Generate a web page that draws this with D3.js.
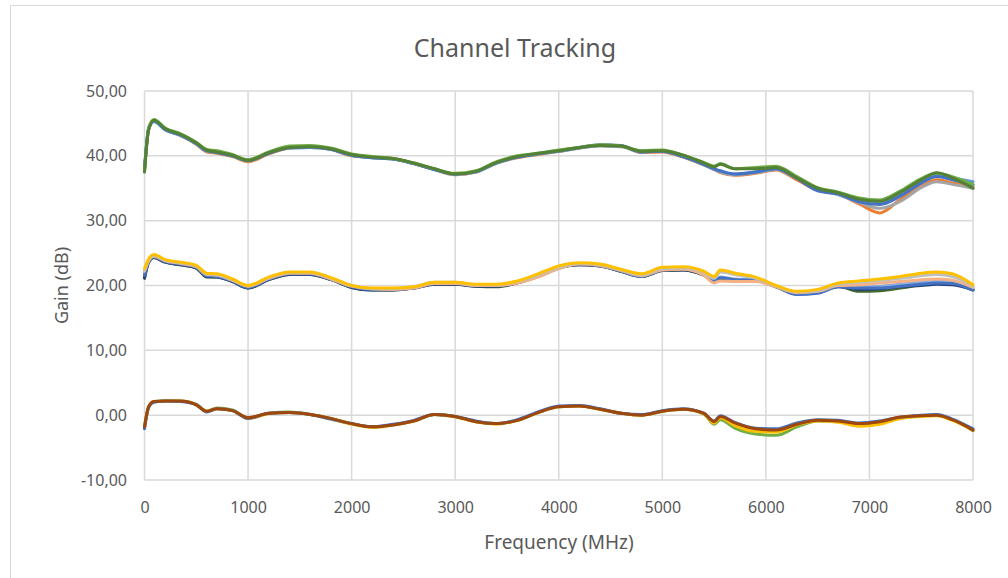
<!DOCTYPE html>
<html>
<head>
<meta charset="utf-8">
<script src="https://d3js.org/d3.v7.min.js"></script>
<style>
  body { margin: 0; background: #fff; }
  text { font-family: "Noto Sans", "Open Sans", sans-serif; fill: #595959; }
</style>
</head>
<body>
<div id="chart"></div>
<script>
// frequency points (MHz)
var freq = [0, 40, 90, 200, 350, 500, 600, 700, 850, 1000, 1200, 1400, 1600, 1800, 2000, 2200, 2400, 2600, 2800, 3000,
    3200, 3400, 3600, 3800, 4000, 4200, 4400, 4600, 4800, 5000, 5200, 5400, 5500, 5560, 5700, 5900, 6100, 6300, 6500,
    6700, 6900, 7100, 7300, 7500, 7650, 7800, 8000];

// high gain band (~40 dB)
var highOrange = [37.7, 44.1, 45.4, 44.1, 43.1, 41.8, 40.6, 40.4, 39.9, 39.1, 40.3, 41.2, 41.4, 41.0, 40.0, 39.8, 39.6, 38.8, 37.9, 37.1, 37.5, 38.9, 39.7, 40.2, 40.7, 41.2, 41.6, 41.5, 40.5, 40.6, 39.8, 38.6, 37.9, 37.4, 37.0, 37.3, 37.8, 36.3, 34.7, 34.1, 32.6, 31.2, 33.3, 35.3, 36.3, 35.8, 35.2];
var highGray = [37.6, 44.0, 45.3, 44.0, 43.1, 41.8, 40.7, 40.5, 40.0, 39.2, 40.4, 41.2, 41.3, 41.0, 40.1, 39.7, 39.5, 38.8, 37.9, 37.1, 37.5, 38.9, 39.8, 40.3, 40.7, 41.2, 41.5, 41.4, 40.6, 40.7, 39.9, 38.6, 37.9, 37.5, 37.1, 37.4, 37.9, 36.5, 34.8, 34.0, 32.8, 31.9, 33.0, 35.1, 36.0, 35.6, 35.0];
var highLightBlue = [37.9, 44.1, 45.3, 44.0, 43.2, 41.9, 40.8, 40.6, 40.0, 39.3, 40.5, 41.2, 41.3, 41.0, 40.1, 39.7, 39.5, 38.8, 37.9, 37.2, 37.5, 38.9, 39.8, 40.3, 40.7, 41.2, 41.6, 41.5, 40.6, 40.7, 39.9, 38.7, 38.0, 37.6, 37.2, 37.5, 38.1, 36.6, 34.8, 34.2, 33.0, 32.7, 34.0, 36.0, 36.9, 36.6, 36.0];
var highBlue = [38.0, 44.3, 45.4, 44.1, 43.2, 41.9, 40.8, 40.5, 40.0, 39.3, 40.4, 41.3, 41.4, 41.0, 40.1, 39.7, 39.5, 38.8, 37.9, 37.2, 37.6, 39.0, 39.8, 40.3, 40.8, 41.3, 41.7, 41.6, 40.6, 40.7, 39.9, 38.7, 38.0, 37.7, 37.2, 37.5, 38.0, 36.5, 34.6, 34.1, 32.9, 32.5, 33.8, 35.8, 36.8, 36.3, 35.5];
var highGreen = [37.8, 44.2, 45.6, 44.3, 43.4, 42.1, 41.0, 40.8, 40.2, 39.4, 40.6, 41.5, 41.6, 41.2, 40.3, 39.9, 39.6, 38.9, 38.0, 37.3, 37.7, 39.1, 40.0, 40.4, 40.9, 41.3, 41.7, 41.5, 40.8, 40.9, 40.1, 39.0, 38.4, 38.8, 38.0, 38.2, 38.4, 36.8, 35.1, 34.4, 33.5, 33.2, 34.6, 36.5, 37.3, 36.8, 35.6];
var highDarkGreen = [37.5, 44.0, 45.5, 44.2, 43.3, 42.0, 40.9, 40.6, 40.1, 39.3, 40.5, 41.3, 41.4, 41.1, 40.2, 39.8, 39.6, 38.9, 38.0, 37.2, 37.6, 39.0, 39.9, 40.4, 40.8, 41.3, 41.6, 41.5, 40.7, 40.8, 40.1, 38.9, 38.3, 38.7, 38.0, 38.0, 38.2, 36.6, 35.0, 34.3, 33.3, 33.0, 34.4, 36.3, 37.4, 36.6, 35.0];

// mid gain band (~20 dB)
var midDarkGreen = [21.1, 23.6, 24.3, 23.6, 23.2, 22.7, 21.3, 21.3, 20.6, 19.6, 20.9, 21.7, 21.7, 20.9, 19.7, 19.3, 19.3, 19.6, 20.2, 20.2, 19.9, 19.8, 20.4, 21.4, 22.7, 23.2, 23.0, 22.2, 21.4, 22.3, 22.4, 21.6, 20.8, 21.1, 20.9, 20.8, 19.8, 18.8, 19.0, 19.9, 19.1, 19.2, 19.6, 20.1, 20.4, 20.3, 19.4];
var midDarkBlue = [21.2, 23.6, 24.3, 23.6, 23.2, 22.7, 21.4, 21.3, 20.6, 19.6, 20.9, 21.7, 21.7, 20.9, 19.7, 19.3, 19.3, 19.6, 20.2, 20.2, 19.9, 19.9, 20.4, 21.4, 22.7, 23.2, 23.0, 22.2, 21.4, 22.3, 22.4, 21.6, 20.8, 21.1, 20.9, 20.8, 19.8, 18.7, 18.9, 19.8, 19.4, 19.5, 19.8, 20.0, 20.2, 20.1, 19.3];
var midLightBlue = [21.8, 23.8, 24.5, 23.8, 23.4, 22.9, 21.6, 21.5, 20.8, 19.8, 21.1, 21.9, 21.9, 21.0, 19.9, 19.5, 19.5, 19.7, 20.4, 20.4, 20.0, 20.0, 20.5, 21.5, 22.8, 23.4, 23.1, 22.3, 21.5, 22.5, 22.6, 21.8, 20.9, 21.3, 21.0, 20.9, 19.9, 18.8, 19.0, 20.0, 19.8, 19.9, 20.2, 20.5, 20.7, 20.5, 19.5];
var midBlue = [21.6, 23.7, 24.4, 23.7, 23.3, 22.8, 21.5, 21.4, 20.7, 19.7, 21.0, 21.8, 21.8, 21.0, 19.8, 19.4, 19.4, 19.6, 20.3, 20.3, 20.0, 20.0, 20.5, 21.4, 22.7, 23.3, 23.1, 22.2, 21.4, 22.4, 22.5, 21.7, 20.8, 21.2, 20.9, 20.8, 19.8, 18.6, 18.8, 19.8, 19.6, 19.6, 19.9, 20.2, 20.4, 20.3, 19.3];
var midOrange = [22.2, 23.8, 24.5, 23.8, 23.4, 22.9, 21.7, 21.6, 20.8, 19.9, 21.1, 21.9, 21.9, 21.0, 19.9, 19.5, 19.4, 19.6, 20.3, 20.3, 20.0, 20.0, 20.4, 21.3, 22.6, 23.3, 23.1, 22.3, 21.5, 22.4, 22.5, 21.6, 20.4, 20.7, 20.6, 20.6, 19.8, 18.9, 19.1, 20.0, 20.1, 20.4, 20.6, 20.9, 21.0, 20.8, 19.7];
var midGray = [22.3, 23.9, 24.6, 23.9, 23.5, 23.0, 21.8, 21.6, 20.9, 19.9, 21.2, 22.0, 22.0, 21.1, 20.0, 19.5, 19.5, 19.8, 20.5, 20.5, 20.1, 20.1, 20.6, 21.6, 22.8, 23.4, 23.2, 22.4, 21.6, 22.6, 22.7, 22.0, 21.1, 22.1, 21.7, 21.1, 19.9, 19.0, 19.2, 20.2, 20.5, 20.8, 21.1, 21.5, 21.7, 21.4, 19.9];
var midYellow = [22.6, 24.1, 24.8, 24.0, 23.6, 23.1, 21.9, 21.8, 21.0, 20.0, 21.3, 22.1, 22.1, 21.2, 20.0, 19.6, 19.6, 19.8, 20.5, 20.5, 20.2, 20.2, 20.7, 21.8, 23.0, 23.5, 23.3, 22.5, 21.8, 22.8, 22.9, 22.2, 21.4, 22.4, 21.9, 21.3, 20.0, 19.1, 19.4, 20.4, 20.7, 21.0, 21.4, 21.9, 22.1, 21.8, 20.1];

// low gain band (~0 dB)
var lowGreen = [-1.9, 1.3, 2.1, 2.2, 2.2, 1.7, 0.6, 1.1, 0.8, -0.4, 0.3, 0.5, 0.1, -0.5, -1.3, -1.8, -1.5, -0.9, 0.1, -0.2, -1.0, -1.3, -0.8, 0.4, 1.3, 1.4, 0.9, 0.3, 0.0, 0.6, 0.9, 0.2, -1.4, -0.7, -2.0, -2.9, -3.1, -1.8, -0.9, -1.0, -1.4, -1.1, -0.4, -0.1, 0.0, -0.7, -2.4];
var lowYellow = [-1.9, 1.2, 2.1, 2.2, 2.2, 1.6, 0.6, 1.0, 0.7, -0.5, 0.2, 0.4, 0.1, -0.6, -1.4, -1.9, -1.5, -0.9, 0.1, -0.3, -1.0, -1.4, -0.8, 0.4, 1.3, 1.4, 0.9, 0.3, 0.0, 0.6, 0.9, 0.2, -1.2, -0.4, -1.6, -2.5, -2.6, -1.5, -0.9, -1.1, -1.7, -1.4, -0.5, -0.2, -0.1, -0.8, -2.3];
var lowBlue = [-2.1, 1.2, 2.0, 2.2, 2.1, 1.6, 0.5, 1.0, 0.7, -0.5, 0.3, 0.4, 0.1, -0.6, -1.3, -1.8, -1.4, -0.8, 0.1, -0.2, -0.9, -1.3, -0.7, 0.5, 1.4, 1.5, 1.0, 0.3, 0.1, 0.7, 1.0, 0.3, -0.9, -0.1, -1.1, -2.0, -2.1, -1.2, -0.7, -0.8, -1.2, -0.9, -0.3, 0.0, 0.1, -0.6, -2.1];
var lowBrown = [-1.8, 1.3, 2.1, 2.2, 2.2, 1.6, 0.6, 1.0, 0.7, -0.4, 0.3, 0.4, 0.1, -0.5, -1.3, -1.8, -1.5, -0.9, 0.1, -0.2, -1.0, -1.3, -0.8, 0.4, 1.3, 1.4, 0.9, 0.3, 0.0, 0.6, 0.9, 0.3, -1.0, -0.2, -1.2, -2.1, -2.3, -1.4, -0.8, -0.9, -1.3, -1.0, -0.3, -0.1, 0.0, -0.7, -2.3];

// axis ticks
var xTicks = [0, 1000, 2000, 3000, 4000, 5000, 6000, 7000, 8000];
var yTicks = [-10, 0, 10, 20, 30, 40, 50];

// series in drawing order (last drawn on top)
var series = [
    { values: highOrange, color: "#ED7D31" },
    { values: highGray, color: "#A5A5A5" },
    { values: highLightBlue, color: "#5B9BD5" },
    { values: highBlue, color: "#4472C4" },
    { values: highGreen, color: "#70AD47" },
    { values: highDarkGreen, color: "#548235" },
    { values: midDarkGreen, color: "#43682B" },
    { values: midDarkBlue, color: "#264478" },
    { values: midLightBlue, color: "#8FAADC" },
    { values: midBlue, color: "#4472C4" },
    { values: midOrange, color: "#F4B183" },
    { values: midGray, color: "#BFBFBF" },
    { values: midYellow, color: "#FFC000" },
    { values: lowGreen, color: "#70AD47" },
    { values: lowYellow, color: "#FFC000" },
    { values: lowBlue, color: "#4472C4" },
    { values: lowBrown, color: "#9E480E" }
];

var svgWidth = 1008;
var svgHeight = 578;

var svg = d3.select("#chart")
    .append("svg")
    .attr("width", svgWidth)
    .attr("height", svgHeight);

// chart border
svg.append("rect")
    .attr("x", 10.5)
    .attr("y", 5.5)
    .attr("width", 1010)
    .attr("height", 600)
    .attr("fill", "#fff")
    .attr("stroke", "#d9d9d9")
    .attr("stroke-width", 1);

// scales
var x = d3.scaleLinear().domain([0, 8000]).range([144.5, 973]);
var y = d3.scaleLinear().domain([-10, 50]).range([480, 91]);

// comma decimals, plain hyphen for minus
var comma = d3.formatLocale({ decimal: ",", thousands: ".", grouping: [3], currency: ["", ""], minus: "-" });
var fmtY = comma.format(".2f");

// gridlines
svg.append("g")
    .selectAll("line")
    .data(yTicks)
    .enter()
    .append("line")
    .attr("x1", x(0))
    .attr("x2", x(8000))
    .attr("y1", d => y(d))
    .attr("y2", d => y(d))
    .attr("stroke", "#d9d9d9")
    .attr("stroke-width", 1.5);

svg.append("g")
    .selectAll("line")
    .data(xTicks)
    .enter()
    .append("line")
    .attr("x1", d => x(d))
    .attr("x2", d => x(d))
    .attr("y1", y(50))
    .attr("y2", y(-10))
    .attr("stroke", "#d9d9d9")
    .attr("stroke-width", 1.5);

// axis labels
var bottomAxis = d3.axisBottom(x).tickValues(xTicks).tickSize(0).tickPadding(0).tickFormat(d3.format("d"));
var gx = svg.append("g")
    .attr("transform", `translate(0, ${y(-10)})`)
    .call(bottomAxis);
gx.select(".domain").remove();
gx.selectAll("text")
    .attr("y", 33)
    .attr("dy", 0)
    .style("font-size", "16px")
    .style("font-family", "Noto Sans")
    .attr("fill", "#595959");

var leftAxis = d3.axisLeft(y).tickValues(yTicks).tickSize(0).tickPadding(0).tickFormat(fmtY);
var gy = svg.append("g")
    .attr("transform", `translate(127, 0)`)
    .call(leftAxis);
gy.select(".domain").remove();
gy.selectAll("text")
    .style("font-size", "16px")
    .style("font-family", "Noto Sans")
    .attr("fill", "#595959");

// lines
var line = d3.line()
    .x((d, i) => x(freq[i]))
    .y(d => y(d))
    .curve(d3.curveMonotoneX);

svg.append("g")
    .selectAll("path")
    .data(series)
    .enter()
    .append("path")
    .attr("d", d => line(d.values))
    .attr("fill", "none")
    .attr("stroke", d => d.color)
    .attr("stroke-width", 3)
    .attr("stroke-linejoin", "round")
    .attr("stroke-linecap", "round");

// titles
svg.append("text")
    .attr("x", 515)
    .attr("y", 57)
    .attr("text-anchor", "middle")
    .style("font-size", "25px")
    .text("Channel Tracking");

svg.append("text")
    .attr("x", 559)
    .attr("y", 549)
    .attr("text-anchor", "middle")
    .style("font-size", "19px")
    .text("Frequency (MHz)");

svg.append("text")
    .attr("transform", `translate(68, ${(y(50) + y(-10)) / 2}) rotate(-90)`)
    .attr("text-anchor", "middle")
    .style("font-size", "18px")
    .text("Gain (dB)");
</script>
</body>
</html>
